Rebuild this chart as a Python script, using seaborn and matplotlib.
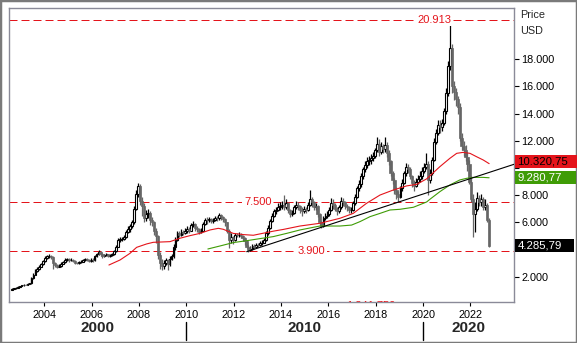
import matplotlib
matplotlib.use("Agg")
import matplotlib.pyplot as plt
import matplotlib.transforms as mtransforms
from matplotlib.patches import Rectangle
from matplotlib.lines import Line2D
import numpy as np
import pandas as pd
import seaborn as sns

sns.set_theme(style="white")
plt.rcParams["font.family"] = ["Liberation Sans", "DejaVu Sans"]

# ---- monthly candles, Aug 2002 .. Oct 2022 (USD) ----
start_month = "2002-08-01"
first_open = 1050

close = [
    1100, 1150, 1200, 1250, 1300,                                                # 2002
    1380, 1420, 1400, 1480, 1500, 1900, 2150, 2450, 2600, 2750, 2900, 3150,      # 2003
    3400, 3500, 3550, 3450, 3000, 2850, 2750, 2800, 2950, 3050, 3250, 3300,      # 2004
    3200, 3250, 3150, 3000, 2980, 3050, 3100, 3200, 3300, 3250, 3150, 3250,      # 2005
    3200, 3500, 3650, 3800, 3700, 3550, 3600, 3650, 3550, 3600, 3650, 3900,      # 2006
    4200, 4700, 4750, 4800, 4900, 5300, 5500, 5700, 6000, 7000, 8100, 8700,      # 2007
    7600, 7200, 6300, 6600, 6700, 6200, 6000, 5400, 5000, 3600, 3000, 2800,      # 2008
    3000, 3200, 2900, 3300, 3500, 4200, 4700, 5200, 5100, 5300, 5250, 5400,      # 2009
    5500, 5400, 5800, 5850, 5600, 5500, 5300, 5400, 5900, 6200, 6150, 6250,      # 2010
    6100, 6200, 6350, 6300, 6550, 6400, 6250, 6000, 5400, 4700, 4900, 4700,      # 2011
    5100, 5050, 5100, 5000, 4850, 4600, 4200, 4000, 4050, 4250, 4200, 4350,      # 2012
    4300, 4450, 4500, 4700, 5200, 5600, 6100, 6500, 6800, 6900, 7100, 7200,      # 2013
    7300, 7100, 7400, 6900, 6600, 6700, 7100, 7300, 7200, 6900, 6800, 7000,      # 2014
    6900, 7300, 7700, 7500, 7100, 7200, 6600, 6000, 5700, 6300, 6500, 6600,      # 2015
    6900, 7400, 7300, 7000, 6800, 7100, 7600, 7500, 7200, 7100, 6900, 6900,      # 2016
    7400, 7900, 8500, 8800, 9400, 9900, 10200, 10500, 10600, 10700, 10900, 11300,  # 2017
    11800, 11200, 11600, 11400, 11700, 11100, 10500, 9600, 9100, 8400, 8100, 7900,  # 2018
    8500, 8900, 9600, 10100, 9900, 9400, 8900, 8700, 9000, 9200, 9400, 9800,       # 2019
    10100, 10300, 9100, 9600, 10600, 11900, 12600, 13200, 13000, 13300, 14200, 15500,  # 2020
    17500, 18800, 16000, 15600, 15100, 14500, 12200, 11600, 11300, 10800, 10300, 9000,  # 2021
    7700, 6600, 7000, 7800, 7500, 7700, 7100, 7300, 6200, 4285.79,                   # 2022
]

high = [
    1160, 1190, 1240, 1290, 1350,
    1420, 1470, 1460, 1520, 1560, 1980, 2250, 2550, 2700, 2850, 3000, 3250,
    3500, 3600, 3700, 3600, 3500, 3100, 2950, 2900, 3050, 3150, 3350, 3400,
    3350, 3350, 3300, 3200, 3100, 3150, 3200, 3300, 3400, 3350, 3300, 3350,
    3350, 3600, 3750, 3950, 3900, 3750, 3700, 3750, 3700, 3700, 3750, 4000,
    4300, 4850, 4900, 4950, 5100, 5450, 5700, 5900, 6200, 7200, 8400, 8900,
    8850, 7900, 7400, 6900, 6950, 6800, 6400, 6100, 5600, 5100, 3800, 3300,
    3200, 3350, 3300, 3500, 3700, 4400, 4900, 5400, 5400, 5500, 5450, 5600,
    5700, 5650, 5950, 6100, 5950, 5750, 5600, 5550, 6050, 6350, 6400, 6400,
    6350, 6350, 6500, 6500, 6700, 6650, 6500, 6300, 6050, 5500, 5200, 5000,
    5250, 5250, 5300, 5200, 5100, 4900, 4700, 4300, 4250, 4400, 4400, 4500,
    4500, 4600, 4700, 4850, 5350, 5800, 6250, 6700, 7000, 7100, 7400, 7500,
    7600, 8000, 7700, 7500, 7000, 6900, 7300, 7550, 7500, 7300, 7100, 7200,
    7150, 7500, 8400, 7900, 7600, 7400, 7300, 6700, 6100, 6450, 6700, 6800,
    7100, 7800, 7700, 7400, 7100, 7300, 7900, 7800, 7600, 7350, 7200, 7100,
    7600, 8100, 8700, 9100, 9600, 10100, 10500, 10800, 10900, 11000, 11200, 11500,
    12300, 12100, 11900, 11800, 12300, 11900, 11300, 10600, 9800, 9300, 8600, 8300,
    8700, 9200, 9800, 10400, 10300, 10100, 9500, 9100, 9300, 9500, 9800, 10100,
    10400, 11100, 10500, 9900, 10800, 12200, 12900, 13500, 13500, 13600, 14400, 15900,
    17900, 20913, 19100, 16400, 15900, 15300, 14800, 12600, 12000, 11700, 11200, 10600,
    9400, 8100, 7500, 8200, 8000, 8100, 7900, 7700, 7400, 6300,
]

low = [
    1040, 1080, 1120, 1170, 1230,
    1280, 1350, 1360, 1380, 1450, 1480, 1850, 2100, 2380, 2520, 2680, 2850,
    3100, 3300, 3400, 3300, 2600, 2750, 2650, 2700, 2750, 2900, 3000, 3150,
    3100, 3150, 3050, 2950, 2900, 2950, 3000, 3050, 3150, 3150, 3050, 3100,
    3100, 3150, 3450, 3600, 3500, 3400, 3450, 3500, 3450, 3450, 3500, 3600,
    3850, 4150, 4550, 4600, 4700, 4850, 5200, 5300, 5600, 5900, 6900, 7900,
    7300, 6500, 6000, 6100, 6300, 5800, 5700, 5100, 4500, 3300, 2600, 2500,
    2600, 2850, 2500, 2800, 3200, 3400, 4000, 4600, 4900, 5000, 5050, 5150,
    5250, 5200, 5350, 5650, 5400, 5300, 5150, 5200, 5350, 5800, 5900, 6000,
    5950, 5950, 6100, 6100, 6200, 6200, 6050, 5700, 5200, 4100, 4500, 4400,
    4600, 4900, 4950, 4850, 4600, 4350, 4100, 3850, 3900, 4000, 4050, 4150,
    4150, 4250, 4350, 4450, 4650, 5100, 5500, 6000, 6400, 6650, 6800, 6900,
    7000, 6900, 6950, 6700, 6400, 6450, 6600, 7000, 6900, 6700, 6500, 6700,
    6700, 6800, 7200, 7100, 6900, 6900, 6400, 5700, 5550, 5650, 6200, 6300,
    6500, 6800, 7000, 6800, 6550, 6700, 7000, 7200, 7000, 6850, 6700, 6700,
    6800, 7300, 7800, 8300, 8600, 9200, 9700, 10000, 10200, 10300, 10500, 10700,
    11200, 10900, 11000, 11100, 11200, 10800, 10200, 9400, 8800, 8100, 7700, 7500,
    7800, 8300, 8800, 9400, 9600, 9200, 8600, 8300, 8600, 8800, 9000, 9200,
    9600, 9900, 8000, 8900, 9500, 10500, 11800, 12400, 12600, 12700, 13200, 14000,
    15300, 17200, 15500, 15000, 14600, 14000, 12000, 11300, 10900, 10500, 9800, 8800,
    7500, 4900, 5300, 6800, 7200, 7200, 6900, 6900, 6000, 4200,
]

# 50- and 100-month moving averages as (decimal year, value)
ma50_year = [2006.73, 2007.20, 2007.62, 2007.90, 2008.32, 2008.60, 2009.31, 2009.73,
             2010.15, 2010.58, 2011.00, 2011.35, 2011.56, 2011.98, 2012.40, 2012.83,
             2013.25, 2013.67, 2014.10, 2014.80, 2015.64, 2016.49, 2017.05, 2017.61,
             2018.18, 2018.74, 2019.30, 2019.73, 2020.15, 2020.71, 2021.13, 2021.42,
             2021.69, 2021.98, 2022.26, 2022.54, 2022.79]
ma50_value = [2860, 3230, 3720, 4160, 4410, 4530, 4580, 4830,
              5020, 5190, 5440, 5560, 5490, 5190, 5100, 5050,
              5200, 5350, 5480, 5730, 5930, 6300, 6660, 7400,
              8010, 8380, 8680, 8800, 9200, 10100, 10710, 11080,
              11150, 11080, 10830, 10590, 10320.75]

ma100_year = [2010.91, 2011.42, 2011.98, 2012.55, 2013.10, 2013.67, 2014.24, 2014.80,
              2015.64, 2016.49, 2016.98, 2017.33, 2017.76, 2018.18, 2018.60, 2019.02,
              2019.59, 2020.15, 2020.29, 2020.71, 2021.13, 2021.55, 2021.84, 2022.12,
              2022.54, 2022.79]
ma100_value = [4040, 4260, 4510, 4650, 4800, 4950, 5190, 5440,
               5730, 5730, 5800, 6050, 6420, 6660, 6910, 6960,
               7110, 7500, 7700, 8260, 8750, 9120, 9240, 9310,
               9310, 9280.77]

# support trend line
trend_year = [2012.55, 2023.84]
trend_value = [3840, 10272]

# horizontal price levels and where their labels sit
level_value = [20913, 7500, 3900]
level_label_year = [2020.47, 2013.02, 2015.30]

year_ticks = list(range(2004, 2023, 2))
price_ticks = list(range(2000, 18001, 2000))
decades = [2000, 2010, 2020]

x_range = (2002.51, 2023.84)
y_range = (138, 21776)

RED = "#e4141b"
GREEN = "#3f9c06"
DOWN = "#666666"
SPINE = "#8a8a98"


def de_num(v, decimals=0):
    s = f"{v:,.{decimals}f}"
    return s.replace(",", "#").replace(".", ",").replace("#", ".")


months = pd.date_range(start_month, periods=len(close), freq="MS")
xpos = np.asarray(months.year + (months.month - 0.5) / 12.0, dtype=float)
c = np.asarray(close, dtype=float)
o = np.concatenate([[first_open], c[:-1]])
h = np.asarray(high, dtype=float)
lo = np.asarray(low, dtype=float)
up = c >= o

W, H = 577, 343
fig = plt.figure(figsize=(W / 100, H / 100), dpi=100)
fig.patch.set_facecolor("white")
ax = fig.add_axes([9 / W, 1 - 302 / H, (514 - 9) / W, (302 - 8) / H])
ax.set_facecolor("white")
ax.set_xlim(*x_range)
ax.set_ylim(*y_range)

# wicks
ax.vlines(xpos[up], lo[up], h[up], color="black", lw=0.9, zorder=3)
ax.vlines(xpos[~up], lo[~up], h[~up], color=DOWN, lw=0.9, zorder=3)
# bodies
bw = 0.075
ax.bar(xpos[up], (c - o)[up], bottom=o[up], width=bw, color="white",
       edgecolor="black", linewidth=0.8, zorder=4)
ax.bar(xpos[~up], (o - c)[~up], bottom=c[~up], width=bw * 1.2, color=DOWN,
       edgecolor=DOWN, linewidth=0.5, zorder=4)

# moving averages and trend line
sns.lineplot(x=ma50_year, y=ma50_value, ax=ax, color=RED, lw=0.8, zorder=5)
sns.lineplot(x=ma100_year, y=ma100_value, ax=ax, color=GREEN, lw=0.8, zorder=5)
sns.lineplot(x=trend_year, y=trend_value, ax=ax, color="black", lw=0.8, zorder=5)

# dashed price levels with labels
for val, lx in zip(level_value, level_label_year):
    ax.axhline(val, color=RED, lw=0.72, ls=(0, (8, 4)), zorder=2)
    ax.text(lx, val, de_num(val), color=RED, fontsize=8, ha="center", va="center",
            zorder=6, bbox=dict(boxstyle="square,pad=0.15", fc="white", ec="none"))

# partly hidden level label at the bottom edge
ax.text(2017.8, 190, "1.341.750", color=RED, fontsize=8, ha="center", va="top",
        zorder=6, clip_on=True)

ax.set_xlabel("")
ax.set_ylabel("")

# axes styling
for sp in ax.spines.values():
    sp.set_color(SPINE)
    sp.set_linewidth(1.0)
    sp.set_visible(True)

# value boxes sit on top of these two tick labels
hidden_ticks = {10000, 4000}
ax.yaxis.tick_right()
ax.set_yticks(price_ticks)
ax.set_yticklabels(["" if v in hidden_ticks else de_num(v) for v in price_ticks])
ax.set_xticks(year_ticks)
ax.set_xticklabels([str(y) for y in year_ticks])
ax.tick_params(axis="y", right=True, left=False, length=3.6, width=0.8, pad=1.5,
               labelsize=7.8, colors="black")
ax.tick_params(axis="x", bottom=True, length=3, width=0.8, pad=2.5,
               labelsize=7.8, colors="black")
ax.grid(False)

fig.text(520 / W, 1 - 15.5 / H, "Price", fontsize=7.8, ha="left", va="center")
fig.text(520 / W, 1 - 31 / H, "USD", fontsize=7.8, ha="left", va="center")

# value boxes at the right edge
px_per_unit = (302 - 8) / (y_range[1] - y_range[0])
box_tr = mtransforms.blended_transform_factory(fig.transFigure, ax.transData)
value_boxes = [
    (ma50_value[-1], RED, "black", 514.5, 577, -2.0),
    (ma100_value[-1], GREEN, "white", 514.5, 576, 0.0),
    (close[-1], "black", "white", 515, 574, 0.0),
]
for val, fc, tc, x0, x1, shift_px in value_boxes:
    half = 6.3 / px_per_unit
    yc = val - shift_px / px_per_unit
    fig.add_artist(Rectangle((x0 / W, yc - half), (x1 - x0) / W, 2 * half,
                             transform=box_tr, facecolor=fc, edgecolor="none",
                             zorder=20, clip_on=False))
    fig.text((x0 + 2.5) / W, yc, de_num(val, 2), transform=box_tr, fontsize=8.2,
             color=tc, ha="left", va="center", zorder=21)

# decade row beneath the year axis
row_tr = mtransforms.blended_transform_factory(ax.transData, fig.transFigure)
for d in decades[1:]:
    fig.add_artist(Line2D([d, d], [1 - 322 / H, 1 - 340 / H], transform=row_tr,
                          color="black", lw=1.0))
edges = [x_range[0]] + decades[1:] + [x_range[1]]
for i, d in enumerate(decades):
    fig.text((edges[i] + edges[i + 1]) / 2, 1 - 328 / H, str(d), transform=row_tr,
             fontsize=11, fontweight="bold", ha="center", va="center")

# outer frame
fig.add_artist(Rectangle((0, 0), 1, 1, transform=fig.transFigure, fill=False,
                         edgecolor="#7a7a7a", lw=2.5, clip_on=False))

fig.savefig("out.png", dpi=100, facecolor="white")
